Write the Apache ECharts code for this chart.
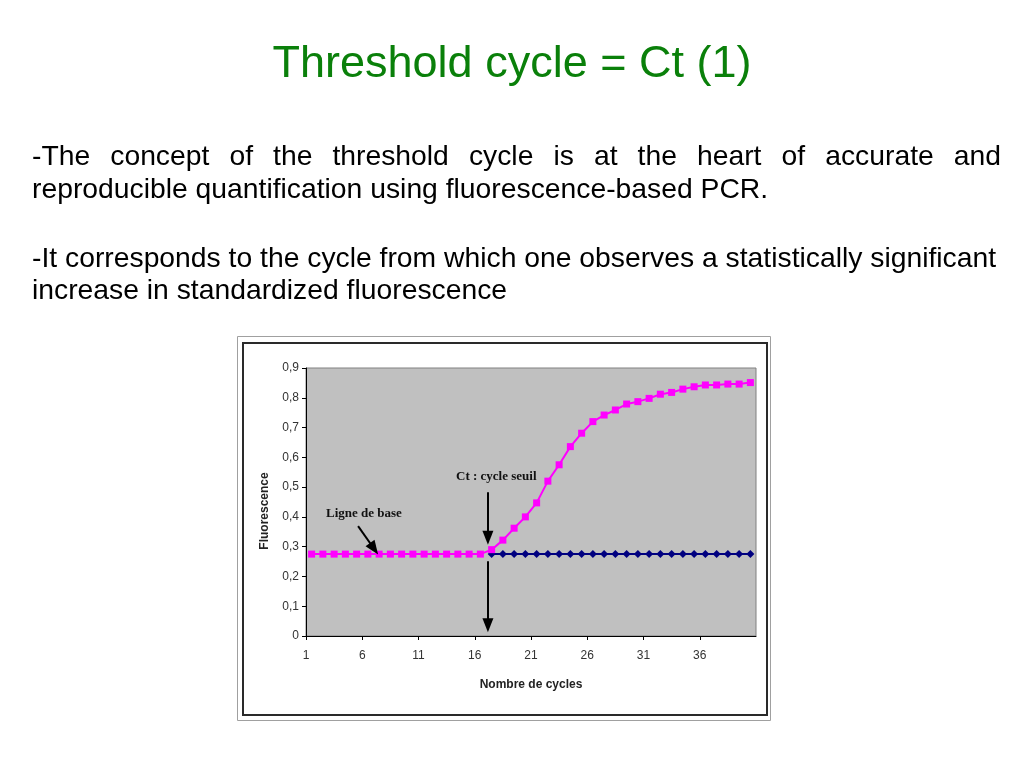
<!DOCTYPE html>
<html>
<head>
<meta charset="utf-8">
<script src="https://cdn.jsdelivr.net/npm/echarts@6/dist/echarts.min.js"></script>
<style>
  html, body { margin: 0; padding: 0; background: #fff; }
  #wrap { position: relative; width: 1024px; height: 768px; overflow: hidden; }
  #chart { position: absolute; left: 0; top: 0; width: 1024px; height: 768px; }
  .txt { position: absolute; font-family: "Liberation Sans", Arial, sans-serif; color: #000; z-index: 2; }
  .title { left: 0; width: 1024px; top: 39px; font-size: 45px; line-height: 45px; text-align: center; color: #0a800a; }
  .body { left: 32px; width: 969px; font-size: 28.3px; line-height: 28px; }
  .just { text-align: justify; text-align-last: justify; }
</style>
</head>
<body>
<div id="wrap">
  <div id="chart"></div>
  <div class="txt title">Threshold cycle = Ct (1)</div>
  <div class="txt body just" style="top:141px">-The concept of the threshold cycle is at the heart of accurate and</div>
  <div class="txt body" style="top:174px">reproducible quantification using fluorescence-based PCR.</div>
  <div class="txt body" style="top:243px">-It corresponds to the cycle from which one observes a statistically significant</div>
  <div class="txt body" style="top:275px">increase in standardized fluorescence</div>
</div>
<script>
// ---- data ----
const cycles = [1,2,3,4,5,6,7,8,9,10,11,12,13,14,15,16,17,18,19,20,
                21,22,23,24,25,26,27,28,29,30,31,32,33,34,35,36,37,38,39,40];
const sampleFluo = [0.275,0.275,0.275,0.275,0.275,0.275,0.275,0.275,0.275,0.275,
                    0.275,0.275,0.275,0.275,0.275,0.275,0.29,0.322,0.362,0.40,
                    0.447,0.52,0.575,0.636,0.681,0.72,0.742,0.759,0.779,0.787,
                    0.798,0.812,0.818,0.829,0.837,0.843,0.843,0.846,0.846,0.851];
const baselineFluo = [null,null,null,null,null,null,null,null,null,null,
                      null,null,null,null,null,null,0.275,0.275,0.275,0.275,
                      0.275,0.275,0.275,0.275,0.275,0.275,0.275,0.275,0.275,0.275,
                      0.275,0.275,0.275,0.275,0.275,0.275,0.275,0.275,0.275,0.275];
const xTickLabels = ['1','6','11','16','21','26','31','36'];
const yTickLabels = ['0','0,1','0,2','0,3','0,4','0,5','0,6','0,7','0,8','0,9'];
// annotation arrows, in [cycle, fluorescence] units
const ctArrowTop = [[16.67, 0.483], [16.67, 0.33]];
const ctArrowBottom = [[16.67, 0.251], [16.67, 0.036]];
const baseArrow = [[5.13, 0.369], [6.55, 0.293]];

// cycles are centred in their category slot: slot i spans [i-1, i]
const toX = c => c - 0.5;
const pinkData = cycles.map((c, i) => [toX(c), sampleFluo[i]]);
const blueData = cycles.map((c, i) => [toX(c), baselineFluo[i]]);
const arrow = seg => [{ coord: [toX(seg[0][0]), seg[0][1]] }, { coord: [toX(seg[1][0]), seg[1][1]] }];

const chart = echarts.init(document.getElementById('chart'), null, { renderer: 'canvas' });
chart.setOption({
  animation: false,
  backgroundColor: 'transparent',
  graphic: [
    { type: 'rect', z: -10, shape: { x: 237.5, y: 336.5, width: 533, height: 384 },
      style: { fill: '#fff', stroke: '#a0a0a0', lineWidth: 1 } },
    { type: 'rect', z: -9, shape: { x: 243, y: 343, width: 524, height: 372 },
      style: { fill: '#fff', stroke: '#2a2a2a', lineWidth: 2 } },
    { type: 'text', z: 10, left: 326, top: 507,
      style: { text: 'Ligne de base', font: 'bold 13px "Liberation Serif", "Times New Roman", serif', fill: '#111' } },
    { type: 'text', z: 10, left: 456, top: 470,
      style: { text: 'Ct : cycle seuil', font: 'bold 13px "Liberation Serif", "Times New Roman", serif', fill: '#111' } }
  ],
  grid: { left: 306, top: 368, width: 450, height: 268, show: true,
          backgroundColor: '#c0c0c0', borderColor: '#808080', borderWidth: 1 },
  xAxis: {
    type: 'value', min: 0, max: 40, interval: 5,
    name: 'Nombre de cycles', nameLocation: 'middle', nameGap: 43,
    nameTextStyle: { fontFamily: '"Liberation Sans", Arial, sans-serif', fontWeight: 'bold', fontSize: 12, color: '#222' },
    axisLine: { show: true, onZero: false, lineStyle: { color: '#000', width: 1 } },
    axisTick: { show: true, length: 4, lineStyle: { color: '#000' } },
    splitLine: { show: false },
    axisLabel: { margin: 14, showMaxLabel: false, fontSize: 12, color: '#333',
                 fontFamily: '"Liberation Sans", Arial, sans-serif',
                 formatter: v => xTickLabels[Math.round(v / 5)] || '' }
  },
  yAxis: {
    type: 'value', min: 0, max: 0.9, interval: 0.1,
    name: 'Fluorescence', nameLocation: 'middle', nameGap: 35, nameRotate: 90,
    nameTextStyle: { fontFamily: '"Liberation Sans", Arial, sans-serif', fontWeight: 'bold', fontSize: 12, color: '#222',
                     padding: [0, 18, 0, 0] },
    axisLine: { show: true, lineStyle: { color: '#000', width: 1 } },
    axisTick: { show: true, length: 4, lineStyle: { color: '#000' } },
    splitLine: { show: false },
    axisLabel: { margin: 7, fontSize: 12, color: '#333',
                 fontFamily: '"Liberation Sans", Arial, sans-serif',
                 formatter: v => yTickLabels[Math.round(v * 10)] }
  },
  series: [
    { name: 'baseline', type: 'line', data: blueData, z: 2,
      symbol: 'diamond', symbolSize: 8, showSymbol: true,
      lineStyle: { color: '#000080', width: 2 }, itemStyle: { color: '#000080' } },
    { name: 'sample', type: 'line', data: pinkData, z: 3,
      symbol: 'rect', symbolSize: 7,
      lineStyle: { color: '#ff00ff', width: 2 }, itemStyle: { color: '#ff00ff' },
      markLine: {
        silent: true, symbol: ['none', 'triangle'], symbolSize: [11, 14],
        label: { show: false },
        lineStyle: { color: '#000', width: 2, type: 'solid' },
        data: [arrow(ctArrowTop), arrow(ctArrowBottom), arrow(baseArrow)]
      } }
  ]
});
</script>
</body>
</html>
